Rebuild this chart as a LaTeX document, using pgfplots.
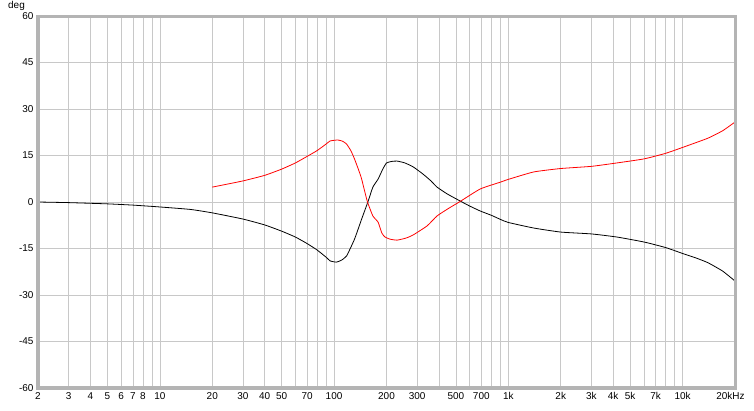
\documentclass[border=0pt]{standalone}
\usepackage{fontspec}
\setmainfont{Liberation Sans}
\usepackage{pgfplots}
\pgfplotsset{compat=1.18}
\definecolor{gridlight}{RGB}{200,200,200}
\definecolor{griddark}{RGB}{120,120,120}
\definecolor{framegray}{RGB}{180,180,180}
\newcommand{\lblfont}{\fontsize{10}{12}\selectfont}

\begin{document}
\begin{tikzpicture}
\useasboundingbox (-38bp,-23bp) rectangle (716bp,388bp);
\begin{axis}[
    name=ph,
    xmode=log,
    scale only axis,
    width=697bp, height=372bp,
    xmin=2, xmax=20000,
    ymin=-60, ymax=60,
    axis line style={draw=none},
    tick label style={font=\lblfont},
    /pgf/number format/assume math mode=true,
    ytick={-60,-45,-30,-15,0,15,30,45,60},
    yticklabels={-60,-45,-30,-15,0,15,30,45,60},
    xtick={2,3,4,5,6,7,8,10,20,30,40,50,70,100,200,300,500,700,1000,2000,3000,4000,5000,7000,10000,20000},
    xticklabels={2,3,4,5,6,7,8,10,20,30,40,50,70,100,200,300,500,700,1k,2k,3k,4k,5k,7k,10k,20kHz\kern9bp},
    minor xtick={9,60,80,90,400,600,800,900,6000,8000,9000},
    extra x ticks={10,100,1000,10000},
    extra x tick labels={},
    extra x tick style={grid style={draw=griddark, line width=0.6pt}},
    xmajorgrids, xminorgrids, ymajorgrids,
    major grid style={draw=gridlight, line width=0.6pt},
    minor grid style={draw=gridlight, line width=0.6pt},
    major tick length=0pt, minor tick length=0pt,
    xticklabel style={yshift=-1bp},
    yticklabel style={xshift=-1bp},
]
% phase curve 1 (black)
\addplot[black, line width=0.8pt, smooth, tension=0.3] coordinates {
(2,0) (3,-0.2) (5,-0.6) (7,-1.0) (10,-1.6) (15,-2.4) (20,-3.5) (30,-5.5)
(40,-7.4) (50,-9.4) (60,-11.3) (70,-13.4) (80,-15.5) (90,-17.8) (95,-19)
(103,-19.4) (110,-18.8) (118,-17.4) (131,-12) (144,-5.5) (157,0.3) (167,4.8)
(179,7.4) (190,10.5) (200,12.6) (215,13.1) (230,13.2) (255,12.6) (285,11.3)
(324,9) (360,6.8) (390,4.8) (446,2.6) (530,0.3) (600,-1.3) (690,-2.9)
(800,-4.3) (900,-5.6) (1000,-6.6) (1400,-8.4) (2000,-9.7) (3000,-10.3)
(4200,-11.3) (6000,-12.9) (8000,-14.7) (10000,-16.6) (12000,-18.1)
(14000,-19.6) (17000,-22.3) (20000,-25.5)
};
% phase curve 2 (red)
\addplot[red, line width=0.8pt, smooth, tension=0.3] coordinates {
(20,4.8) (30,6.8) (40,8.6) (50,10.6) (60,12.6) (70,14.7) (80,16.6) (90,18.7)
(95,19.7) (105,20) (112,19.6) (118,18.7) (125,16.5) (131,13.9) (138,10.5)
(144,7.4) (155,0.3) (167,-4.5) (179,-6.5) (188,-10) (196,-11.3) (210,-12)
(230,-12.3) (260,-11.6) (285,-10.6) (342,-7.7) (390,-4.5) (450,-2.2)
(530,0.2) (690,4.2) (900,6.4) (1000,7.3) (1400,9.7) (2000,10.8) (3000,11.5)
(4200,12.6) (6000,13.9) (8000,15.7) (10000,17.6) (14000,20.6) (17000,23)
(20000,25.8)
};
\end{axis}
\draw[framegray, line width=3bp] (ph.south west) rectangle (ph.north east);
\node[anchor=south east, inner sep=0pt, font=\lblfont]
  at ([xshift=-13bp,yshift=5bp]ph.north west) {deg};
\end{tikzpicture}
\end{document}
